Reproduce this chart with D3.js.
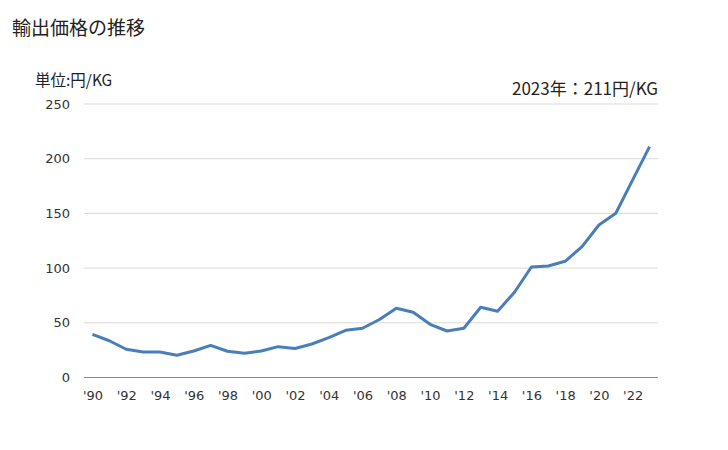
<!DOCTYPE html>
<html><head><meta charset="utf-8">
<script src="https://cdn.jsdelivr.net/npm/d3@7"></script>
<style>body{margin:0;background:#fff;font-family:"Noto Sans CJK JP","Noto Sans",sans-serif;}
.tick text{font-family:"DejaVu Sans",sans-serif;font-size:13px;fill:#333;}</style>
</head><body><svg id="c" width="728" height="450"></svg>
<script>
const years = d3.range(1990, 2024);
const prices = [39.5,33.6,25.8,23.3,23.3,20.3,24.2,29.4,24.0,22.1,24.2,28.2,26.5,30.6,36.4,43.1,45.0,53.0,63.3,59.6,48.6,42.5,45.0,64.2,60.5,77.9,101.0,101.9,106.2,119.6,139.4,150.1,180.6,211.0];
const yTicks = [0,50,100,150,200,250];
const title = "輸出価格の推移";
const unitLabel = "単位:円/KG";
const note = "2023年：211円/KG";

const svg = d3.select("#c");
const L = 84, R = 658, T = 104, B = 377.5;
const x = d3.scalePoint().domain(years).range([L, R]).padding(0.5);
const y = d3.scaleLinear().domain([0,250]).range([B, T]);

svg.append("text").attr("x",12).attr("y",35).attr("font-size",19).attr("fill","#222").text(title);
svg.append("text").attr("x",35).attr("y",86).attr("font-size",15.5).attr("fill","#222").text(unitLabel);
svg.append("text").attr("x",R).attr("y",95).attr("text-anchor","end").attr("font-size",17).attr("fill","#222").text(note);

svg.append("g").selectAll("line").data(yTicks.filter(d=>d>0)).join("line")
  .attr("x1",L).attr("x2",R).attr("y1",d=>y(d)).attr("y2",d=>y(d))
  .attr("stroke","#d9d9d9").attr("stroke-width",1);

const yAxis = d3.axisLeft(y).tickValues(yTicks).tickSize(0).tickPadding(14);
const gy = svg.append("g").attr("transform",`translate(${L},0)`).call(yAxis);
gy.select(".domain").remove();

const xAxis = d3.axisBottom(x).tickValues(years.filter(d=>d%2===0)).tickSize(0).tickPadding(13)
  .tickFormat(d=>"'"+String(d).slice(2));
const gx = svg.append("g").attr("transform",`translate(0,${B})`).call(xAxis);
gx.select(".domain").attr("stroke","#888").attr("d",`M${L},0H${R}`);

const line = d3.line().x((d,i)=>x(years[i])).y(d=>y(d));
svg.append("path").datum(prices).attr("d",line).attr("fill","none")
  .attr("stroke","#4a7ebb").attr("stroke-width",3).attr("stroke-linejoin","round");
</script></body></html>
